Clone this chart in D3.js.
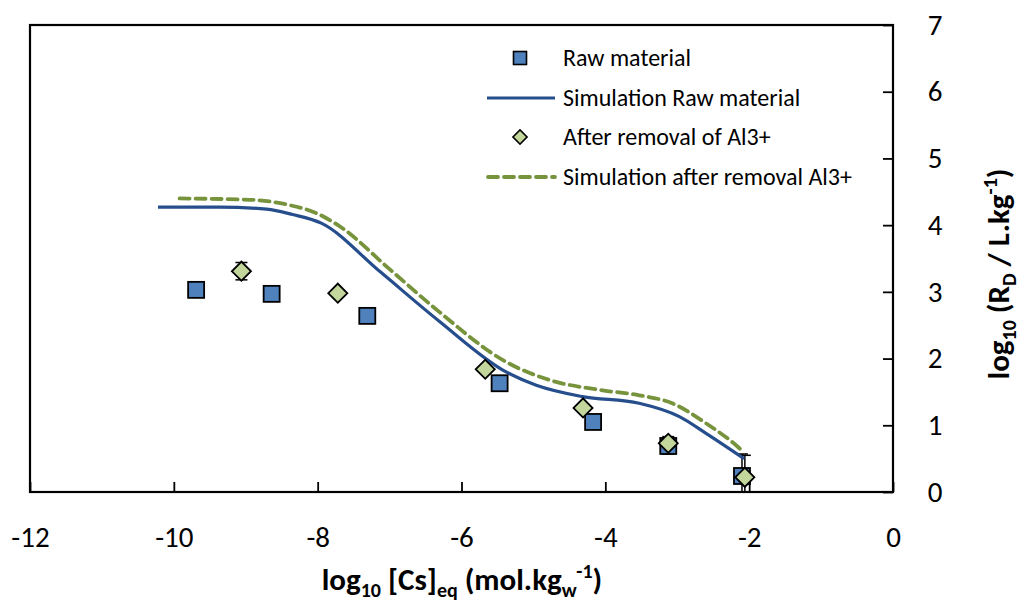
<!DOCTYPE html>
<html><head><meta charset="utf-8">
<script src="https://cdn.jsdelivr.net/npm/d3@7"></script>
<style>
body{margin:0;background:#fff;}
text{font-family:Carlito,Lato,"Open Sans",sans-serif;fill:#000;}
</style></head>
<body><svg id="c" width="1020" height="601"></svg>
<script>
// ---- data ----
const rawX = [-9.69, -8.64, -7.31, -5.47, -4.17, -3.125, -2.10];
const rawY = [3.03, 2.97, 2.64, 1.63, 1.05, 0.69, 0.24];
const rawErr = [0, 0, 0, 0, 0, 0.12, 0.33];
const alX = [-9.06, -7.72, -5.67, -4.31, -3.125, -2.06];
const alY = [3.31, 2.98, 1.84, 1.26, 0.73, 0.22];
const alErr = [0.13, 0, 0, 0, 0.1, 0.33];
const simRawX = [-10.22, -9.36, -8.71, -8.35, -7.95, -7.13, -6.31, -5.38, -4.96, -4.32, -3.53, -2.97, -2.60, -2.07];
const simRawY = [4.27, 4.27, 4.24, 4.16, 4.03, 3.30, 2.56, 1.80, 1.60, 1.43, 1.33, 1.13, 0.88, 0.50];
const simAlX = [-9.92, -8.94, -8.39, -8.02, -7.69, -7.00, -6.31, -5.38, -4.78, -4.08, -3.53, -3.07, -2.60, -2.14, -2.08];
const simAlY = [4.40, 4.38, 4.30, 4.18, 3.98, 3.34, 2.70, 1.95, 1.68, 1.53, 1.45, 1.33, 1.03, 0.66, 0.60];
const xTicks = [-12, -10, -8, -6, -4, -2, 0];
const yTicks = [0, 1, 2, 3, 4, 5, 6, 7];
const legendLabels = ["Raw material", "Simulation Raw material", "After removal of Al3+", "Simulation after removal Al3+"];

// ---- layout ----
const L = 30, R = 893, T = 25, B = 492;
const svg = d3.select("#c");
const x = d3.scaleLinear().domain([-12, 0]).range([L, R]);
const y = d3.scaleLinear().domain([0, 7]).range([B, T]);
const blue = "#4F81BD", navy = "#264D8C", green = "#77933C", lightG = "#C3D69B";

svg.append("defs").append("clipPath").attr("id", "clip")
  .append("rect").attr("x", L).attr("y", T).attr("width", R - L).attr("height", B - T);

// frame
svg.append("rect").attr("x", L).attr("y", T).attr("width", R - L).attr("height", B - T)
  .attr("fill", "none").attr("stroke", "#000").attr("stroke-width", 2.2);

// x axis
const xa = svg.append("g").attr("transform", `translate(0,${B})`)
  .call(d3.axisBottom(x).tickValues(xTicks).tickSize(-10).tickPadding(34).tickFormat(d3.format("d")));
xa.select(".domain").remove();
xa.selectAll("line").attr("stroke", "#000").attr("stroke-width", 1.8);
xa.selectAll("text").attr("font-size", 29).text(d => d < 0 ? "-" + Math.abs(d) : d);

// y axis (right)
const ya = svg.append("g").attr("transform", `translate(${R},0)`)
  .call(d3.axisRight(y).tickValues(yTicks).tickSize(-10).tickPadding(42).tickFormat(d3.format("d")));
ya.select(".domain").remove();
ya.selectAll("line").attr("stroke", "#000").attr("stroke-width", 1.8);
ya.selectAll("text").attr("font-size", 29).attr("text-anchor", "middle");

// axis titles
const big = 31, small = 20;
const xt = svg.append("text").attr("x", 462).attr("y", 590).attr("text-anchor", "middle")
  .attr("font-size", big).attr("font-weight", "bold");
xt.append("tspan").text("log");
xt.append("tspan").attr("font-size", small).attr("dy", 7).text("10");
xt.append("tspan").attr("dy", -7).text(" [Cs]");
xt.append("tspan").attr("font-size", small).attr("dy", 7).text("eq");
xt.append("tspan").attr("dy", -7).text(" (mol.kg");
xt.append("tspan").attr("font-size", small).attr("dy", 7).text("w");
xt.append("tspan").attr("font-size", small).attr("dy", -19).text("-1");
xt.append("tspan").attr("dy", 12).text(")");

const yt = svg.append("text").attr("transform", "translate(1009,274) rotate(-90)").attr("text-anchor", "middle")
  .attr("font-size", big).attr("font-weight", "bold");
yt.append("tspan").text("log");
yt.append("tspan").attr("font-size", small).attr("dy", 7).text("10");
yt.append("tspan").attr("dy", -7).text(" (R");
yt.append("tspan").attr("font-size", small).attr("dy", 7).text("D");
yt.append("tspan").attr("dy", -7).text(" / L.kg");
yt.append("tspan").attr("font-size", small).attr("dy", -12).text("-1");
yt.append("tspan").attr("dy", 12).text(")");

const plot = svg.append("g").attr("clip-path", "url(#clip)");

// error bars
function errBars(xs, ys, es, dx) {
  xs.forEach((xv, i) => {
    if (!es[i]) return;
    const cx = x(xv) + dx, y1 = y(ys[i] + es[i]), y2 = y(ys[i] - es[i]);
    plot.append("line").attr("x1", cx).attr("x2", cx).attr("y1", y1).attr("y2", y2).attr("stroke", "#000").attr("stroke-width", 1.5);
    [y1, y2].forEach(yy => plot.append("line").attr("x1", cx - 6).attr("x2", cx + 6).attr("y1", yy).attr("y2", yy).attr("stroke", "#000").attr("stroke-width", 1.5));
  });
}
errBars(rawX, rawY, rawErr, 0);
errBars(alX, alY, alErr, 0);

// simulation lines
const line = d3.line().x(d => x(d[0])).y(d => y(d[1])).curve(d3.curveMonotoneX);
plot.append("path").datum(simRawX.map((v, i) => [v, simRawY[i]])).attr("d", line)
  .attr("fill", "none").attr("stroke", navy).attr("stroke-width", 3.2);
plot.append("path").datum(simAlX.map((v, i) => [v, simAlY[i]])).attr("d", line)
  .attr("fill", "none").attr("stroke", green).attr("stroke-width", 3.8)
  .attr("stroke-dasharray", "10,6").attr("stroke-linecap", "round");

// markers
const sq = 16, dm = 13.5;
plot.selectAll(".sq").data(rawX.map((v, i) => [v, rawY[i]])).join("rect")
  .attr("x", d => x(d[0]) - sq / 2).attr("y", d => y(d[1]) - sq / 2).attr("width", sq).attr("height", sq)
  .attr("fill", blue).attr("stroke", "#000").attr("stroke-width", 1.8);
plot.selectAll(".dm").data(alX.map((v, i) => [v, alY[i]])).join("rect")
  .attr("x", -dm / 2).attr("y", -dm / 2).attr("width", dm).attr("height", dm)
  .attr("transform", d => `translate(${x(d[0])},${y(d[1])}) rotate(45)`)
  .attr("fill", lightG).attr("stroke", "#000").attr("stroke-width", 1.8);

// legend
const lg = svg.append("g");
const rows = [58, 98, 137, 177];
lg.append("rect").attr("x", 520 - 6.5).attr("y", rows[0] - 6.5).attr("width", 13).attr("height", 13)
  .attr("fill", blue).attr("stroke", "#000").attr("stroke-width", 1.6);
lg.append("line").attr("x1", 487).attr("x2", 555).attr("y1", rows[1]).attr("y2", rows[1])
  .attr("stroke", navy).attr("stroke-width", 3.2);
lg.append("rect").attr("x", -5).attr("y", -5).attr("width", 10).attr("height", 10)
  .attr("transform", `translate(520,${rows[2]}) rotate(45)`)
  .attr("fill", lightG).attr("stroke", "#000").attr("stroke-width", 1.6);
lg.append("line").attr("x1", 488).attr("x2", 555).attr("y1", rows[3]).attr("y2", rows[3])
  .attr("stroke", green).attr("stroke-width", 3.8).attr("stroke-dasharray", "10,6").attr("stroke-linecap", "round");
legendLabels.forEach((t, i) => {
  lg.append("text").attr("x", 563).attr("y", rows[i]).attr("dy", "0.35em").attr("font-size", 24).text(t);
});
</script></body></html>
